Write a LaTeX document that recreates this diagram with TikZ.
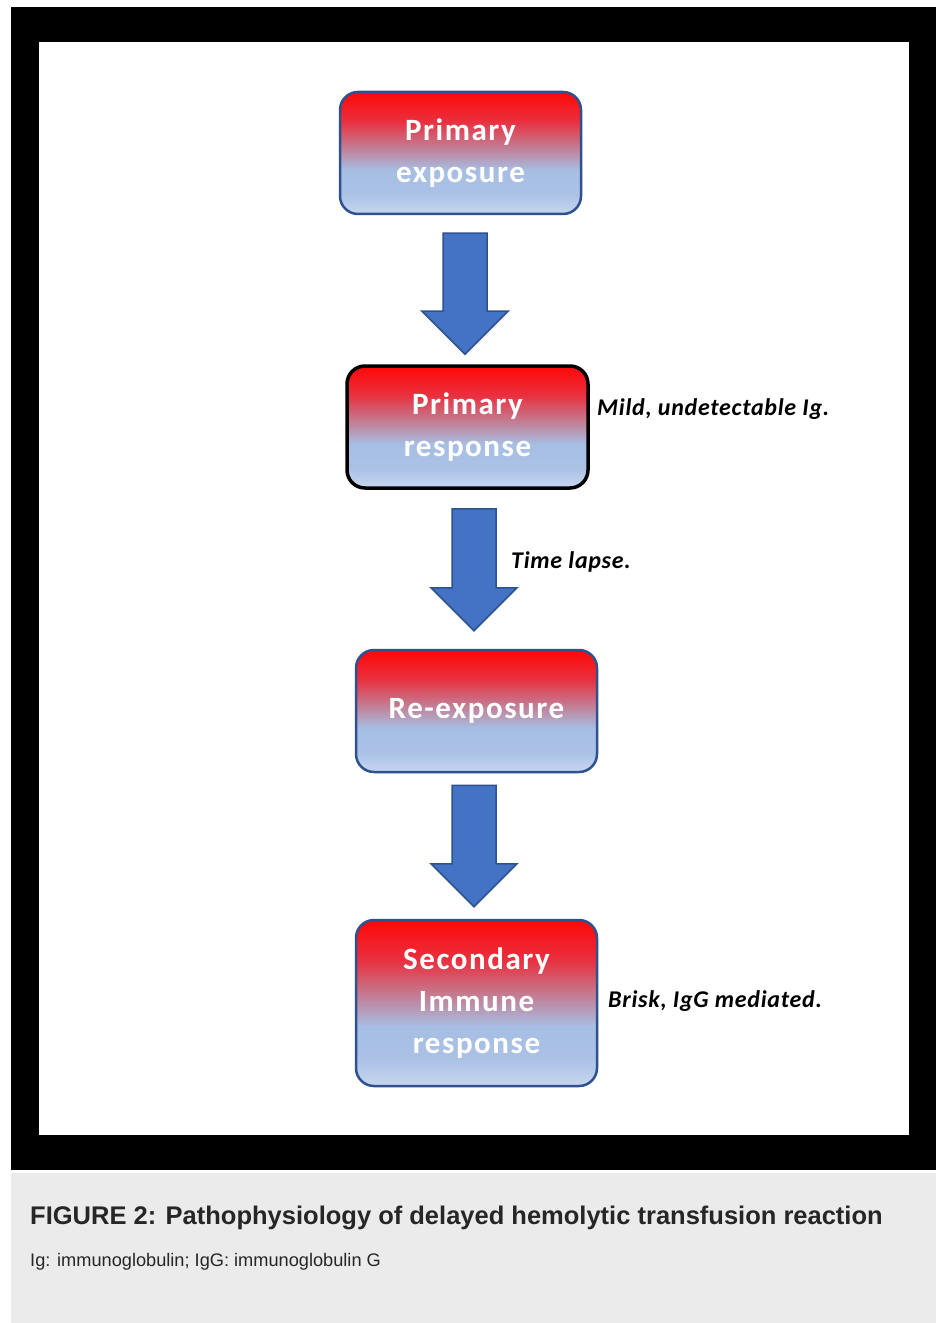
\documentclass[tikz,border=0pt]{standalone}
\usepackage{fontspec}
\setmainfont{Carlito}
\newfontfamily\boxfont[LetterSpace=5]{Carlito}
\newfontfamily\notefont[LetterSpace=3]{Carlito}
\newfontfamily\captionfont{Liberation Sans}
\usetikzlibrary{calc}

\definecolor{boxedge}{HTML}{2F528F}
\definecolor{arrowfill}{HTML}{4472C4}
\definecolor{captionbg}{HTML}{EBEBEB}
\definecolor{captiontext}{HTML}{262626}
\definecolor{shadetop}{HTML}{FF0808}
\definecolor{shaderose}{HTML}{E8303F}
\definecolor{shademauve}{HTML}{C27F96}
\definecolor{shadeblue}{HTML}{A7BEE3}
\definecolor{shadelow}{HTML}{ABC2E6}
\definecolor{shadebot}{HTML}{C7D6F0}

\pgfdeclareverticalshading{redtoblue}{100bp}{color(0bp)=(shadebot); color(25bp)=(shadebot); color(33bp)=(shadelow); color(43bp)=(shadeblue); color(52bp)=(shademauve); color(63bp)=(shaderose); color(75bp)=(shadetop); color(100bp)=(shadetop)}

\begin{document}
\begin{tikzpicture}[x=1bp,y=-1bp,
    stepbox/.style={rounded corners=18bp,shading=redtoblue,draw=boxedge,line width=2.5bp,
        minimum width=241bp,minimum height=122bp,text=white,align=center,
        font=\boxfont\fontsize{31bp}{42bp}\selectfont\bfseries},
    notelbl/.style={anchor=west,inner sep=0pt,font=\notefont\fontsize{24bp}{28bp}\selectfont\bfseries\itshape},
    flowarrow/.style={draw=boxedge,fill=arrowfill,line width=1.5bp,line join=miter,
        to path={let \p1=(\tikztostart),\p2=(\tikztotarget) in
            (\x1-22bp,\y1) -- (\x1+22bp,\y1) -- (\x1+22bp,\y2+43bp) -- (\x1+43bp,\y2+43bp)
            -- (\x1,\y2) -- (\x1-43bp,\y2+43bp) -- (\x1-22bp,\y2+43bp) -- cycle}}]
    % frame and caption area
    \useasboundingbox (0,0) rectangle (936,1323);
    \fill[black] (11,7) rectangle (936,1170);
    \fill[white] (39,42) rectangle (909,1135);
    \fill[captionbg] (11,1173) rectangle (936,1323);

    \node[stepbox] (pexp) at (460.5,153) {Primary\\exposure};
    \node[stepbox,draw=black,line width=3.5bp] (presp) at (467.5,427) {Primary\\response};
    \node[stepbox] (reexp) at (476.5,711) {Re-exposure};
    \node[stepbox,minimum height=166bp] (secresp) at (476.5,1003) {Secondary\\Immune\\response};

    \node[notelbl] (mildlbl) at (597,409) {Mild, undetectable Ig.};
    \node[notelbl] (lapselbl) at (511,562) {Time lapse.};
    \node[notelbl] (brisklbl) at (608,1001) {Brisk, IgG mediated.};

    \draw[flowarrow] ($(pexp.south)+(4.5,18)$) to ($(presp.north)+(-2.5,-10)$);
    \draw[flowarrow] ($(presp.south)+(6.5,19)$) to ($(reexp.north)+(-2.5,-18)$);
    \draw[flowarrow] ($(reexp.south)+(-2.5,12)$) to ($(secresp.north)+(-2.5,-12)$);

    \node[anchor=base west,inner sep=0pt,text=captiontext,font=\captionfont\bfseries\fontsize{25.5bp}{30bp}\selectfont] (figtitle) at (30,1224) {FIGURE 2: Pathophysiology of delayed hemolytic transfusion reaction};
    \node[anchor=base west,inner sep=0pt,text=captiontext,font=\captionfont\fontsize{18.2bp}{22bp}\selectfont] (figabbr) at (30,1266) {Ig: immunoglobulin; IgG: immunoglobulin G};
\end{tikzpicture}
\end{document}
